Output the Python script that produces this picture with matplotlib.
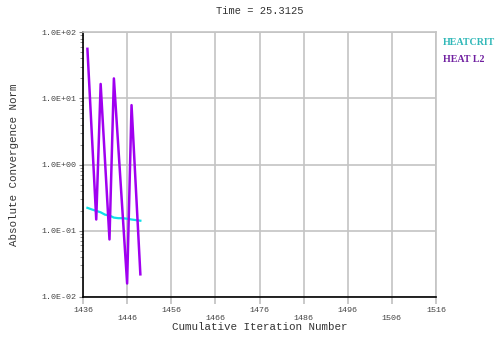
import matplotlib
matplotlib.use("Agg")
import matplotlib.pyplot as plt
from matplotlib.ticker import LogLocator, NullFormatter

# data
heat_l2_x = [1437, 1439, 1440, 1442, 1443, 1446, 1447, 1449]
heat_l2_y = [56.0, 0.148, 16.5, 0.074, 20.0, 0.016, 7.9, 0.022]

heatcrit_x = [1437, 1438, 1439, 1440, 1441, 1442, 1443, 1444, 1445, 1446, 1447, 1448, 1449]
heatcrit_y = [0.222, 0.21, 0.20, 0.19, 0.175, 0.17, 0.158, 0.155, 0.155, 0.152, 0.148, 0.145, 0.142]

x_ticks = [1436, 1446, 1456, 1466, 1476, 1486, 1496, 1506, 1516]
y_ticks = [1e-2, 1e-1, 1e0, 1e1, 1e2]
y_tick_labels = ["1.0E-02", "1.0E-01", "1.0E+00", "1.0E+01", "1.0E+02"]

mono = "Liberation Mono"

fig = plt.figure(figsize=(5, 3.42), dpi=100)
ax = fig.add_axes([0.166, 0.1316, 0.706, 0.7744])

ax.plot(heatcrit_x, heatcrit_y, color="#10e0e8", lw=1.6, zorder=3)
ax.plot(heat_l2_x, heat_l2_y, color="#a000f0", lw=1.8, zorder=4)

ax.set_yscale("log")
ax.set_xlim(1436, 1516)
ax.set_ylim(1e-2, 1e2)

ax.set_xticks(x_ticks)
ax.set_xticklabels([str(v) if i % 2 == 0 else "\n" + str(v) for i, v in enumerate(x_ticks)],
                   fontfamily=mono, fontsize=6, color="#444444", linespacing=1.35)
ax.set_yticks(y_ticks)
ax.set_yticklabels(y_tick_labels, fontfamily=mono, fontsize=6, color="#444444")
ax.yaxis.set_minor_locator(LogLocator(base=10, subs=[2, 3, 4, 5, 6, 7, 8, 9]))
ax.yaxis.set_minor_formatter(NullFormatter())

ax.tick_params(axis="x", length=5, color="#c0c0c0", width=1.2, pad=2)
ax.tick_params(axis="y", which="major", length=3, color="#808080", pad=2)
ax.tick_params(axis="y", which="minor", length=2, color="#808080")

ax.grid(True, which="major", color="#c4c4c4", lw=1.2)
ax.set_axisbelow(True)
for s in ["top", "right"]:
    ax.spines[s].set_color("#c4c4c4")
    ax.spines[s].set_linewidth(1.2)
for s in ["left", "bottom"]:
    ax.spines[s].set_color("black")
    ax.spines[s].set_linewidth(1.2)

ax.set_title("Time = 25.3125", fontfamily=mono, fontsize=7.5, color="#333333", pad=13)
ax.set_xlabel("Cumulative Iteration Number", fontfamily=mono, fontsize=7.8, color="#333333", labelpad=0)
ax.set_ylabel("Absolute Convergence Norm", fontfamily=mono, fontsize=7.8, color="#333333")
ax.yaxis.set_label_coords(-0.18, 0.5)

fig.text(0.886, 0.868, "HEATCRIT", fontfamily="Liberation Serif", fontweight="bold",
         fontsize=7.2, color="#30b8b8")
fig.text(0.886, 0.82, "HEAT L2", fontfamily="Liberation Serif", fontweight="bold",
         fontsize=7.2, color="#7020a0")

fig.savefig("out.png", dpi=100)
